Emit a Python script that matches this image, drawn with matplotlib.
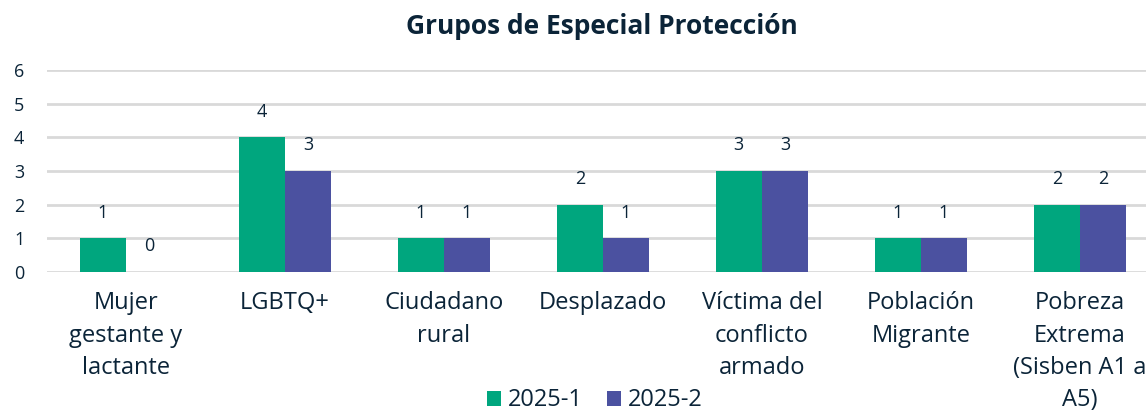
import numpy as np
import matplotlib.pyplot as plt

plt.rcParams['font.family'] = ['Open Sans', 'DejaVu Sans']

# datos
categorias = ['Mujer\ngestante y\nlactante', 'LGBTQ+', 'Ciudadano\nrural', 'Desplazado',
              'Víctima del\nconflicto\narmado', 'Población\nMigrante',
              'Pobreza\nExtrema\n(Sisben A1 a\nA5)']
periodo_1 = [1, 4, 1, 2, 3, 1, 2]
periodo_2 = [0, 3, 1, 1, 3, 1, 2]
series = ['2025-1', '2025-2']

color_texto = '#0B2438'
color_1 = '#00A67E'
color_2 = '#4B51A0'

fig = plt.figure(figsize=(11.46, 4.15), dpi=100)
ax = fig.add_axes([0.0406, 0.3446, 0.971, 0.4867])

x = np.arange(len(categorias))
ancho = 0.29
b1 = ax.bar(x - ancho / 2, periodo_1, ancho, color=color_1, label=series[0], zorder=3)
b2 = ax.bar(x + ancho / 2, periodo_2, ancho, color=color_2, label=series[1], zorder=3)

for barras in (b1, b2):
    for b in barras:
        ax.annotate('%d' % b.get_height(), (b.get_x() + b.get_width() / 2, b.get_height()),
                    xytext=(0, 12), textcoords='offset points', ha='center', va='bottom',
                    fontsize=13, color=color_texto)

ax.set_xlim(-0.5, len(categorias) - 0.5)
ax.set_ylim(0, 6)
ax.set_yticks(range(7))
ax.yaxis.grid(True, color='#D9D9D9', linewidth=2, zorder=0)
ax.set_axisbelow(True)
for s in ax.spines.values():
    s.set_visible(False)
ax.tick_params(axis='y', length=0, pad=16, labelsize=13, labelcolor=color_texto)
ax.tick_params(axis='x', length=0, pad=14, labelsize=17, labelcolor=color_texto)
ax.set_xticks(x)
ax.set_xticklabels(categorias, linespacing=1.45)

fig.text(0.525, 0.935, 'Grupos de Especial Protección', ha='center', va='center',
         fontsize=19, fontweight='bold', color=color_texto)

ax.legend(loc='center', bbox_to_anchor=(0.519, 0.035), bbox_transform=fig.transFigure,
          ncol=2, frameon=False, fontsize=17, labelcolor=color_texto,
          handlelength=0.6, handleheight=0.6, handletextpad=0.3, columnspacing=1.0)

fig.savefig('out.png', dpi=100)
